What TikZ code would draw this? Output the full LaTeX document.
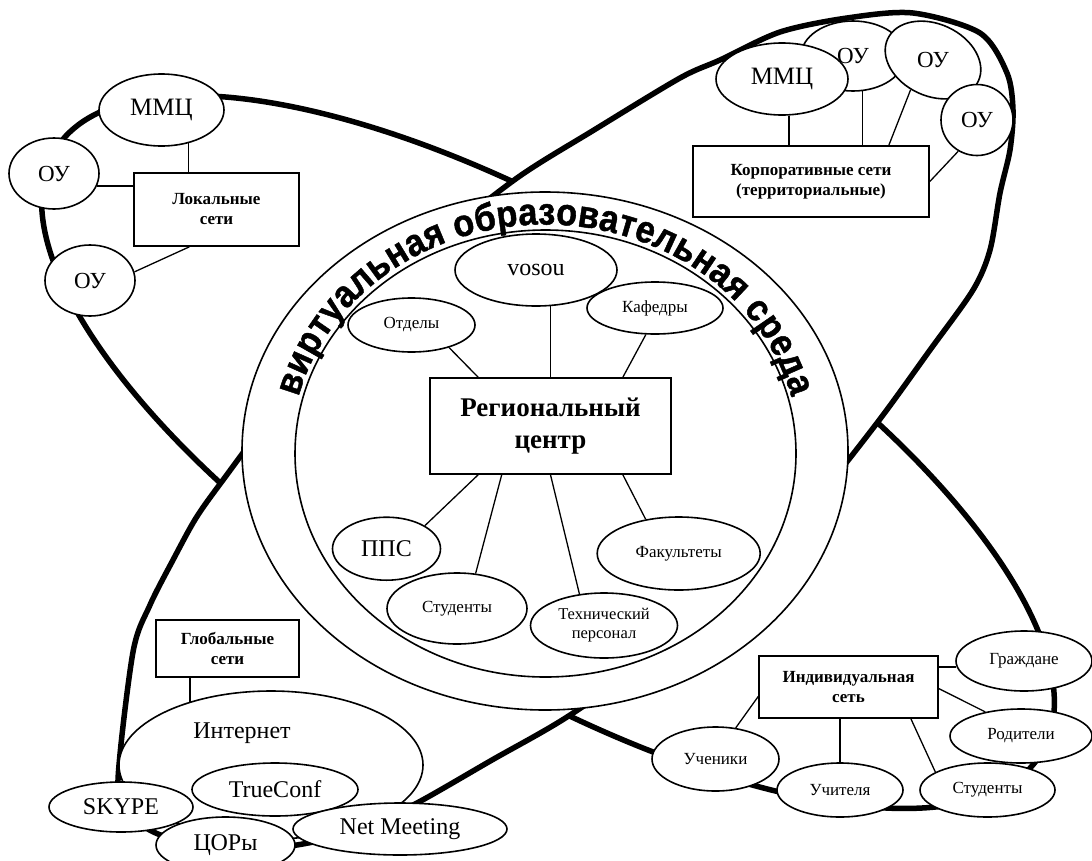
\documentclass[tikz,border=0pt]{standalone}
\usepackage{fontspec}
\setmainfont{Liberation Serif}
\newfontfamily\arcfont{Liberation Sans Bold}[FakeStretch=0.9, FakeBold=1.2]
\usetikzlibrary{shapes.geometric,decorations.text}
\newcommand\arcstyle{\arcfont\fontsize{38}{38}\selectfont}
\begin{document}
\begin{tikzpicture}[x=1pt,y=-1pt,
  petal/.style={line width=5.5pt},
  ring/.style={line width=1.6pt},
  nd/.style={ellipse,draw,fill=white,line width=1.6pt,inner sep=0pt},
  bx/.style={rectangle,draw,fill=white,line width=1.6pt,align=center,inner sep=0pt},
  cn/.style={line width=1.3pt},
  tbig/.style={font=\fontsize{24}{28}\selectfont},
  tmid/.style={font=\fontsize{17}{20}\selectfont},
  tbold/.style={font=\fontsize{17}{20}\selectfont\bfseries},
]
\useasboundingbox (0,0) rectangle (1092,860);
% big petals
\draw[petal, rotate around={-31.5:(548,452)}] (548,452) ellipse [x radius=578pt, y radius=222pt];
\draw[petal, fill=white] plot[smooth cycle] coordinates {
 (517,178) (594,130) (680,78) (720,60) (780,32) (847,18) (913,13) (980,33)
 (1007,73) (1013,110) (1010,150) (1000,193) (990,250) (973,290) (930,350)
 (877,423) (810,507) (736,585) (655,655) (567,717) (492,760) (417,803)
 (360,830) (290,846) (220,848) (158,834) (128,812) (118,780) (133,652)
 (150,605) (173,560) (196,518) (223,480) (287,395) (357,317) (434,244)};
% central rings
\draw[ring, fill=white] (545,451) ellipse [x radius=303pt, y radius=259pt];
\draw[ring] (545.5,453.5) ellipse [x radius=250.5pt, y radius=223.5pt];
\path[decorate, decoration={text along path, text={|\arcstyle|виртуальная образовательная среда}, text align=fit to path}]
  (298.5,397) arc[start angle=166, end angle=14, x radius=254pt, y radius=227.5pt];

% upper-left: local networks
\node[nd, minimum width=125pt, minimum height=72pt, font=\fontsize{25}{28}\selectfont] (mmc1) at (161.5,110) {ММЦ};
\node[nd, minimum width=90pt, minimum height=71pt, font=\fontsize{23}{26}\selectfont] (ou1) at (54,173.5) {ОУ};
\node[nd, minimum width=90pt, minimum height=71pt, font=\fontsize{23}{26}\selectfont] (ou2) at (90,280.5) {ОУ};
\node[bx, tbold, minimum width=165pt, minimum height=73pt] (loc) at (216.5,209.5) {Локальные\\сети};
\draw[cn] (mmc1.-51) -- (mmc1.-51 |- loc.north);
\draw[cn] (ou1.-16) -- (ou1.-16 -| loc.west);
\draw[cn] (loc.-126) -- (ou2.11);

% upper-right: corporate networks
\node[nd, minimum width=104pt, minimum height=70pt, font=\fontsize{23}{26}\selectfont] (ou3) at (853,56) {ОУ};
\node[nd, minimum width=132pt, minimum height=72pt, font=\fontsize{25}{28}\selectfont] (mmc2) at (782,79) {ММЦ};
\node[nd, rotate=-25, minimum width=100pt, minimum height=72pt] (ou4) at (933,60) {};
\node[font=\fontsize{23}{26}\selectfont] (ou4t) at (ou4.center) {ОУ};
\node[nd, minimum width=72pt, minimum height=71pt, font=\fontsize{23}{26}\selectfont] (ou5) at (977,120) {ОУ};
\node[bx, tbold, minimum width=236pt, minimum height=71pt] (corp) at (811,181.5) {Корпоративные сети\\(территориальные)};
\draw[cn] (mmc2.-79) -- (mmc2.-79 |- corp.north);
\draw[cn] (ou3.-75) -- (ou3.-75 |- corp.north);
\draw[cn] (ou4.-102) -- (corp.25);
\draw[cn] (ou5.-121) -- (corp.east);

% centre: regional centre
\node[nd, tbig, minimum width=162pt, minimum height=72pt] (vosou) at (536,270) {vosou};
\node[nd, tmid, minimum width=127pt, minimum height=54pt] (otd) at (411.5,325) {Отделы};
\node[nd, tmid, minimum width=136pt, minimum height=52pt] (kaf) at (655,308) {Кафедры};
\node[bx, font=\fontsize{27}{32}\selectfont\bfseries, minimum width=241pt, minimum height=96pt] (reg) at (550.5,426) {Региональный\\центр};
\node[nd, tbig, minimum width=108pt, minimum height=63pt] (pps) at (386.5,548.7) {ППС};
\node[nd, tmid, minimum width=140pt, minimum height=71pt] (stud) at (457,608.5) {Студенты};
\node[nd, align=center, font=\fontsize{16.5}{19}\selectfont, minimum width=147pt, minimum height=65pt] (tech) at (604,625.5) {Технический\\персонал};
\node[nd, tmid, minimum width=163pt, minimum height=73pt] (fak) at (678.7,553.5) {Факультеты};
\draw[cn] (otd.-31) -- (reg.146);
\draw[cn] (vosou.-68) -- (vosou.-68 |- reg.north);
\draw[cn] (kaf.-109) -- (reg.34);
\draw[cn] (reg.-146) -- (pps.31);
\draw[cn] (reg.-135) -- (stud.62);
\draw[cn] (reg.south) -- (tech.128);
\draw[cn] (reg.-34) -- (fak.134);

% lower-left: global networks
\node[bx, tbold, minimum width=143pt, minimum height=57pt] (glob) at (227.5,648.5) {Глобальные\\сети};
\node[nd, minimum width=304pt, minimum height=148pt] (inet) at (271,765) {};
\node[tbig] (inett) at (242,733) {Интернет};
\node[nd, tbig, minimum width=166pt, minimum height=53pt] (tc) at (275,789.5) {TrueConf};
\node[nd, tbig, minimum width=144pt, minimum height=50pt] (skype) at (121,807) {SKYPE};
\node[nd, tbig, minimum width=139pt, minimum height=56pt] (cor) at (225.5,845) {ЦОРы};
\node[nd, tbig, minimum width=214pt, minimum height=52pt] (netm) at (400,829) {Net Meeting};
\draw[cn] (inet.142) -- (inet.142 |- glob.south);

% lower-right: individual network
\node[bx, tbold, minimum width=179pt, minimum height=62pt] (ind) at (848.5,687) {Индивидуальная\\сеть};
\node[nd, tmid, minimum width=136pt, minimum height=60pt] (grazh) at (1024,661) {Граждане};
\node[nd, tmid, minimum width=142pt, minimum height=54pt] (rod) at (1021,736) {Родители};
\node[nd, tmid, minimum width=135pt, minimum height=54pt] (stud2) at (987.5,790) {Студенты};
\node[nd, tmid, minimum width=126pt, minimum height=54pt] (uch) at (840,790) {Учителя};
\node[nd, tmid, minimum width=127pt, minimum height=64pt] (ucen) at (715.5,759) {Ученики};
\draw[cn] (grazh.-175) -- (grazh.-175 -| ind.east);
\draw[cn] (ind.-1) -- (rod.146);
\draw[cn] (uch.north) -- (uch.north |- ind.south);
\draw[cn] (ind.-27) -- (stud2.161);
\draw[cn] (ind.-174) -- (ucen.57);
\end{tikzpicture}
\end{document}
